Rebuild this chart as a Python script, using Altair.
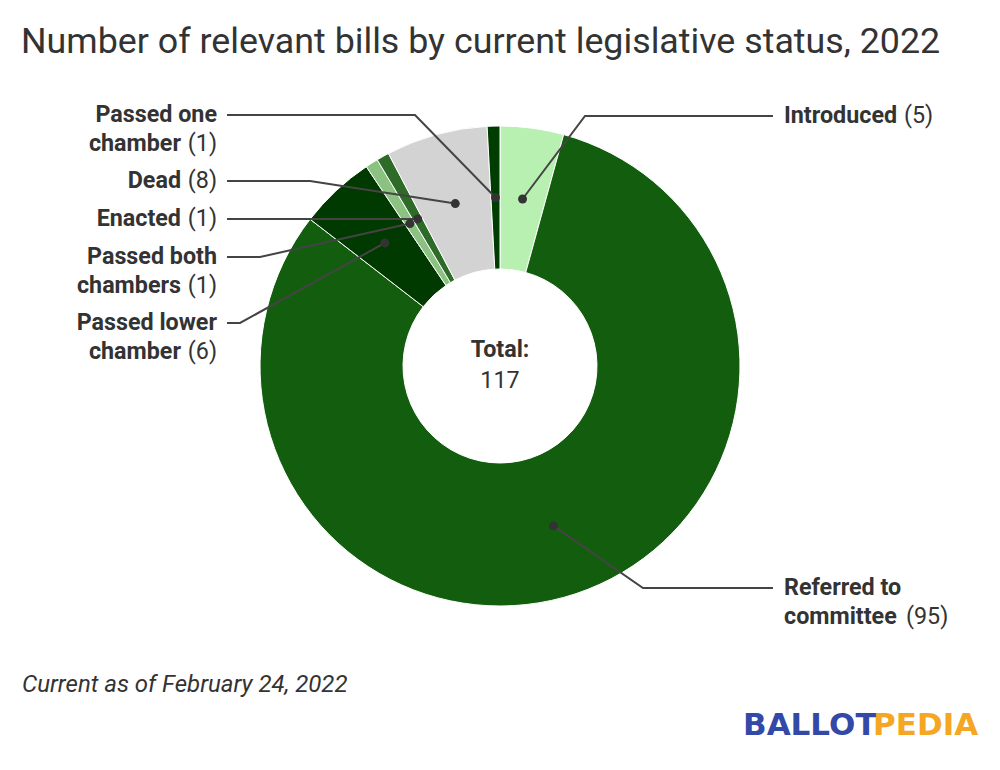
import altair as alt
import pandas as pd
import numpy as np

# ---------------- data ----------------
statuses = ["Introduced", "Referred to committee", "Passed lower chamber",
            "Passed both chambers", "Enacted", "Dead", "Passed one chamber"]
counts = [5, 95, 6, 1, 1, 8, 1]
colors = ["#b7f0b1", "#135e0e", "#003a00", "#8bc282", "#2e6b28", "#d3d3d3", "#003d00"]

label_bold = [["Introduced"], ["Referred to", "committee"], ["Passed lower", "chamber"],
              ["Passed both", "chambers"], ["Enacted"], ["Dead"], ["Passed one", "chamber"]]

title_text = "Number of relevant bills by current legislative status, 2022"
footnote_text = "Current as of February 24, 2022"
total_label = "Total:"

# ---------------- layout (picture pixels) ----------------
O = 8                     # page margin
CX, CY = 500, 366         # donut centre
R_OUT, R_IN = 240, 97
label_side = ["right", "right", "left", "left", "left", "left", "left"]
label_y = [116, 588, 323, 257, 219, 181, 115]          # first line centre
line_gap = 28.5
elbow_x = [585, 643, 240, 260, 405, 310, 415]
count_x = [904, 906, 217, 217, 217, 217, 217]           # regular "(n)" anchor
LEFT_END, RIGHT_END = 227, 773
RIGHT_TEXT_X = 784
LEFT_BOLD_OFFSET = 36
FONT = "Roboto"
TXT = "#333333"
FS = 23.3

total = sum(counts)
df = pd.DataFrame({"status": statuses, "count": counts, "idx": range(len(statuses))})

# dot positions from the data
cum = np.cumsum(counts)
mid = cum - np.array(counts) / 2.0
ang = mid / total * 2 * np.pi
r_mid = (R_OUT + R_IN) / 2.0
dot_x = CX + r_mid * np.sin(ang)
dot_y = CY - r_mid * np.cos(ang)

dots = pd.DataFrame({"status": statuses, "x": dot_x - O, "y": dot_y - O})

line_rows = []
for i, s in enumerate(statuses):
    end_x = LEFT_END if label_side[i] == "left" else RIGHT_END
    pts = [(dot_x[i], dot_y[i]), (elbow_x[i], label_y[i]), (end_x, label_y[i])]
    for k, (px, py) in enumerate(pts):
        line_rows.append({"status": s, "ord": k, "x": px - O, "y": py - O})
lines = pd.DataFrame(line_rows)

bold_rows, reg_rows = [], []
for i, s in enumerate(statuses):
    n_lines = len(label_bold[i])
    for j, t in enumerate(label_bold[i]):
        y = label_y[i] + j * line_gap - O
        last = j == n_lines - 1
        if label_side[i] == "left":
            x = count_x[i] - (LEFT_BOLD_OFFSET if last else 0)
            bold_rows.append({"x": x - O, "y": y, "text": t, "side": "left"})
        else:
            bold_rows.append({"x": RIGHT_TEXT_X - O, "y": y, "text": t, "side": "right"})
        if last:
            reg_rows.append({"x": count_x[i] - O, "y": y, "text": f"({counts[i]})",
                             "side": label_side[i]})
bold_df = pd.DataFrame(bold_rows)
reg_df = pd.DataFrame(reg_rows)

X = lambda f: alt.X(f, type="quantitative", scale=None, axis=None)
Y = lambda f: alt.Y(f, type="quantitative", scale=None, axis=None)

donut = alt.Chart(df).mark_arc(outerRadius=R_OUT, innerRadius=R_IN, stroke="white",
                               strokeWidth=1).encode(
    theta=alt.Theta("count:Q", stack=True),
    color=alt.Color("status:N", scale=alt.Scale(domain=statuses, range=colors), legend=None),
    order=alt.Order("idx:Q"),
    x=alt.value(CX - O), y=alt.value(CY - O),
)

leader = alt.Chart(lines).mark_line(color="#444444", strokeWidth=2).encode(
    x=X("x"), y=Y("y"), detail="status:N", order="ord:Q")

dot_layer = alt.Chart(dots).mark_circle(color="#333333", size=80, opacity=1).encode(
    x=X("x"), y=Y("y"))

def text_layer(data, align, weight):
    return alt.Chart(data).mark_text(align=align, baseline="middle", font=FONT,
                                     fontSize=FS, fontWeight=weight, color=TXT).encode(
        x=X("x"), y=Y("y"), text="text:N")

bold_left = text_layer(bold_df[bold_df["side"] == "left"], "right", "bold")
bold_right = text_layer(bold_df[bold_df["side"] == "right"], "left", "bold")
reg_left = text_layer(reg_df[reg_df["side"] == "left"], "right", "normal")
reg_right = text_layer(reg_df[reg_df["side"] == "right"], "left", "normal")

centre = pd.DataFrame({"x": [CX - O, CX - O], "y": [350 - O, 381 - O],
                       "text": [total_label, str(total)], "w": ["bold", "normal"]})
centre_bold = alt.Chart(centre[centre["w"] == "bold"]).mark_text(
    align="center", baseline="middle", font=FONT, fontSize=FS, fontWeight="bold", color=TXT
).encode(x=X("x"), y=Y("y"), text="text:N")
centre_reg = alt.Chart(centre[centre["w"] == "normal"]).mark_text(
    align="center", baseline="middle", font=FONT, fontSize=FS, fontWeight="normal", color=TXT
).encode(x=X("x"), y=Y("y"), text="text:N")

title = alt.Chart(pd.DataFrame({"x": [21 - O], "y": [53 - O], "text": [title_text]})).mark_text(
    align="left", baseline="alphabetic", font=FONT, fontSize=35.8, color=TXT
).encode(x=X("x"), y=Y("y"), text="text:N")

foot = alt.Chart(pd.DataFrame({"x": [22 - O], "y": [692 - O], "text": [footnote_text]})).mark_text(
    align="left", baseline="alphabetic", font=FONT, fontSize=24, fontStyle="italic", color=TXT
).encode(x=X("x"), y=Y("y"), text="text:N")

logo_df = pd.DataFrame({"x": [743 - O, 873 - O], "y": [735 - O, 735 - O],
                        "text": ["BALLOT", "PEDIA"], "c": ["#3349a8", "#f5a623"]})
logo = alt.Chart(logo_df).mark_text(
    align="left", baseline="alphabetic", font="DejaVu Sans", fontSize=31, fontWeight="bold"
).encode(x=X("x"), y=Y("y"), text="text:N",
         color=alt.Color("c:N", scale=None))

chart = alt.layer(donut, leader, dot_layer, bold_left, bold_right, reg_left, reg_right,
                  centre_bold, centre_reg, title, foot, logo).properties(
    width=984, height=754, autosize="none", padding=0, background="white"
).configure_view(stroke=None)

chart.save("out.html", embed_options={"renderer": "svg", "actions": False})
